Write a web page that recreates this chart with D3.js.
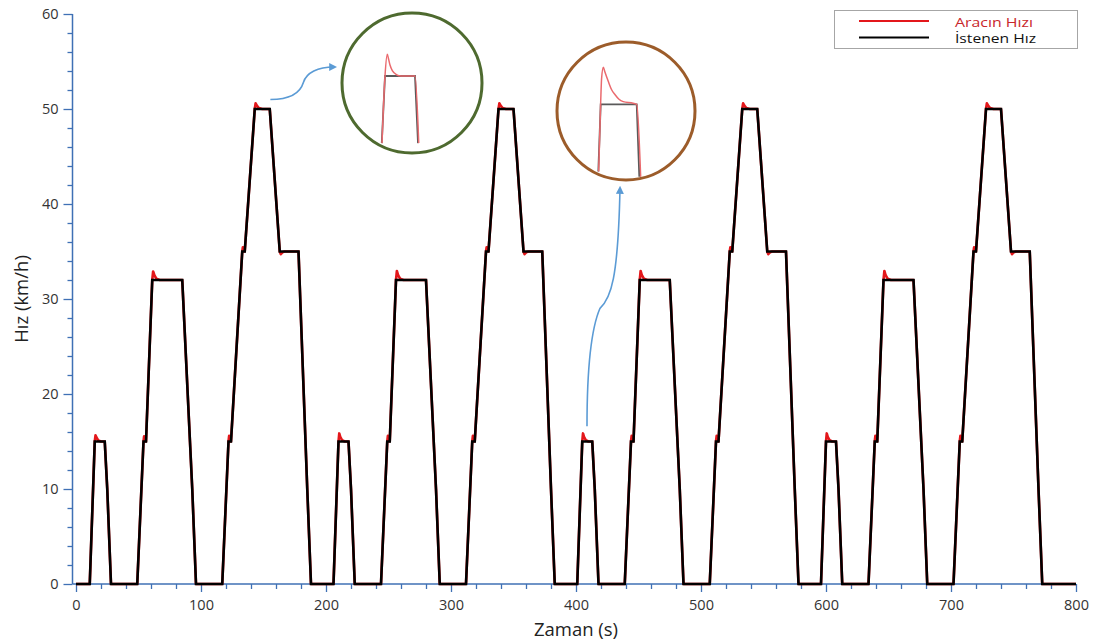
<!DOCTYPE html>
<html>
<head>
<meta charset="utf-8">
<script src="https://cdn.jsdelivr.net/npm/d3@7"></script>
<style>
  html, body { margin: 0; padding: 0; background: #fff; }
  svg { display: block; font-family: "Open Sans", "Noto Sans", sans-serif; }
</style>
</head>
<body>
<svg id="chart" width="1103" height="641"></svg>
<script>
// ECE-15 urban driving cycle, four repetitions (time in s, speed in km/h)
// Requested speed (İstenen Hız) breakpoints
const targetTime = [
  0, 11, 15, 23, 25, 28, 49, 54, 56, 61, 85, 93, 96, 117, 122, 124, 133, 135, 143, 155, 163, 176, 178, 185, 188,
  206, 210, 218, 220, 223, 244, 249, 251, 256, 280, 288, 291, 312, 317, 319, 328, 330, 338, 350, 358, 371, 373, 380, 383,
  401, 405, 413, 415, 418, 439, 444, 446, 451, 475, 483, 486, 507, 512, 514, 523, 525, 533, 545, 553, 566, 568, 575, 578,
  596, 600, 608, 610, 613, 634, 639, 641, 646, 670, 678, 681, 702, 707, 709, 718, 720, 728, 740, 748, 761, 763, 770, 773,
  800
];
const targetSpeed = [
  0, 0, 15, 15, 10, 0, 0, 15, 15, 32, 32, 10, 0, 0, 15, 15, 35, 35, 50, 50, 35, 35, 35, 10, 0,
  0, 15, 15, 10, 0, 0, 15, 15, 32, 32, 10, 0, 0, 15, 15, 35, 35, 50, 50, 35, 35, 35, 10, 0,
  0, 15, 15, 10, 0, 0, 15, 15, 32, 32, 10, 0, 0, 15, 15, 35, 35, 50, 50, 35, 35, 35, 10, 0,
  0, 15, 15, 10, 0, 0, 15, 15, 32, 32, 10, 0, 0, 15, 15, 35, 35, 50, 50, 35, 35, 35, 10, 0,
  0
];

// Measured vehicle speed (Aracın Hızı): follows the request with small overshoots
const vehicleSpeed = [
  [0,0],[11,0],[15,15],[15.6,15.65],[16.4,15.42],[17.8,15.12],[20,15],[23,15],[25,10],[28,0],[49,0],
  [54,15],[54.5,15.55],[55.3,15.12],[56,15],[61,32],[61.7,32.9],[62.7,32.5],[64.3,32.15],[67,32],[85,32],[93,10],[96,0],[117,0],
  [122,15],[122.5,15.6],[123.3,15.15],[124,15],[133,35],[133.5,35.45],[134.3,35.12],[135,35],
  [143,50],[143.7,50.6],[144.7,50.35],[146.3,50.1],[149,50],[155,50],[163,35],[163.8,34.72],[165.2,34.92],[167,35],[176,35],[178,35],[185,10],[188,0],

  [206,0],[210,15],[210.6,15.85],[211.4,15.5],[212.8,15.15],[215,15],[218,15],[220,10],[223,0],[244,0],
  [249,15],[249.5,15.6],[250.3,15.15],[251,15],[256,32],[256.7,32.95],[257.7,32.5],[259.3,32.15],[262,32],[280,32],[288,10],[291,0],[312,0],
  [317,15],[317.5,15.6],[318.3,15.15],[319,15],[328,35],[328.5,35.45],[329.3,35.12],[330,35],
  [338,50],[338.7,50.6],[339.7,50.35],[341.3,50.1],[344,50],[350,50],[358,35],[358.8,34.72],[360.2,34.92],[362,35],[371,35],[373,35],[380,10],[383,0],

  [401,0],[405,15],[405.6,15.85],[406.4,15.5],[407.8,15.15],[410,15],[413,15],[415,10],[418,0],[439,0],
  [444,15],[444.5,15.6],[445.3,15.15],[446,15],[451,32],[451.7,32.95],[452.7,32.5],[454.3,32.15],[457,32],[475,32],[483,10],[486,0],[507,0],
  [512,15],[512.5,15.6],[513.3,15.15],[514,15],[523,35],[523.5,35.45],[524.3,35.12],[525,35],
  [533,50],[533.7,50.6],[534.7,50.35],[536.3,50.1],[539,50],[545,50],[553,35],[553.8,34.72],[555.2,34.92],[557,35],[566,35],[568,35],[575,10],[578,0],

  [596,0],[600,15],[600.6,15.85],[601.4,15.5],[602.8,15.15],[605,15],[608,15],[610,10],[613,0],[634,0],
  [639,15],[639.5,15.6],[640.3,15.15],[641,15],[646,32],[646.7,32.95],[647.7,32.5],[649.3,32.15],[652,32],[670,32],[678,10],[681,0],[702,0],
  [707,15],[707.5,15.6],[708.3,15.15],[709,15],[718,35],[718.5,35.45],[719.3,35.12],[720,35],
  [728,50],[728.7,50.6],[729.7,50.35],[731.3,50.1],[734,50],[740,50],[748,35],[748.8,34.72],[750.2,34.92],[752,35],[761,35],[763,35],[770,10],[773,0],
  [800,0]
];

// Magnified views of two plateaus: 50 km/h (first cycle) and 15 km/h (third cycle)
const zoomTarget50  = [[141.7,48.17],[143,50],[155,50],[156.2,48.17]];
const zoomVehicle50 = [[141.8,48.17],[143,50],[143.9,50.59],[144.4,50.47],[145,50.3],[146,50.14],[147.5,50.04],[149.5,50],[155,50],[156.5,48.17]];
const zoomTarget15  = [[404.47,13.73],[405,15],[413,15],[413.58,13.63]];
const zoomVehicle15 = [[404.55,13.73],[405,15.05],[405.2,15.49],[405.58,15.7],[405.9,15.62],[406.7,15.43],[407.4,15.28],[408.2,15.18],[409,15.1],[410,15.05],[412.2,15.02],[413,15],[413.9,13.59]];

const xTicks = [0, 100, 200, 300, 400, 500, 600, 700, 800];
const xMinorTicks = d3.range(0, 801, 20).filter(v => v % 100 !== 0);
const yTicks = [0, 10, 20, 30, 40, 50, 60];
const yMinorTicks = d3.range(0, 61, 2).filter(v => v % 10 !== 0);

const seriesNames = ["Aracın Hızı", "İstenen Hız"];
const xTitle = "Zaman (s)";
const yTitle = "Hız (km/h)";

// ---- layout ----
const AXIS_BLUE = "#3f70b5";
const x = d3.scaleLinear().domain([0, 800]).range([76, 1076]);
const y = d3.scaleLinear().domain([0, 60]).range([584, 14]);
const yAxisX = 72.5;

const svg = d3.select("#chart");

// axes
const gx = svg.append("g").attr("transform", `translate(0,${y(0)})`);
gx.call(d3.axisBottom(x).tickValues(xMinorTicks).tickSize(5).tickSizeOuter(0).tickFormat(""));
gx.call(g => g.select(".domain").remove());
const gx2 = svg.append("g").attr("transform", `translate(0,${y(0)})`);
gx2.call(d3.axisBottom(x).tickValues(xTicks).tickSize(8).tickSizeOuter(0).tickPadding(8).tickFormat(d3.format("d")));
gx2.select(".domain").remove();

const gy = svg.append("g").attr("transform", `translate(${yAxisX},0)`);
gy.call(d3.axisLeft(y).tickValues(yMinorTicks).tickSize(5).tickSizeOuter(0).tickFormat(""));
gy.select(".domain").remove();
const gy2 = svg.append("g").attr("transform", `translate(${yAxisX},0)`);
gy2.call(d3.axisLeft(y).tickValues(yTicks).tickSize(9).tickSizeOuter(0).tickPadding(5).tickFormat(d3.format("d")));
gy2.select(".domain").remove();

svg.selectAll(".tick line").attr("stroke", AXIS_BLUE).attr("stroke-width", 1.3);
svg.selectAll(".tick text").attr("fill", "#333").attr("font-size", 14.5)
   .attr("font-family", "'Open Sans', 'Noto Sans', sans-serif");

// axis lines
svg.append("line").attr("x1", yAxisX).attr("x2", yAxisX).attr("y1", y(60)).attr("y2", y(0))
   .attr("stroke", AXIS_BLUE).attr("stroke-width", 1.5);
svg.append("line").attr("x1", yAxisX).attr("x2", x(800)).attr("y1", y(0)).attr("y2", y(0))
   .attr("stroke", AXIS_BLUE).attr("stroke-width", 1.5);

// axis titles
svg.append("text").attr("x", x(400)).attr("y", 635.5).attr("text-anchor", "middle")
   .attr("font-size", 18.5).attr("fill", "#222").text(xTitle);
svg.append("text").attr("transform", `translate(28,${y(30)}) rotate(-90)`).attr("text-anchor", "middle")
   .attr("font-size", 18.5).attr("fill", "#222").text(yTitle);

// series
const lineFn = d3.line().x(d => x(d[0])).y(d => y(d[1]));
const target = targetTime.map((t, i) => [t, targetSpeed[i]]);

svg.append("path").datum(vehicleSpeed).attr("d", lineFn)
   .attr("fill", "none").attr("stroke", "#e3171b").attr("stroke-width", 2.6).attr("stroke-linejoin", "round");
svg.append("path").datum(target).attr("d", lineFn)
   .attr("fill", "none").attr("stroke", "#000").attr("stroke-width", 2.6).attr("stroke-linejoin", "miter");

// legend
const legend = svg.append("g");
legend.append("rect").attr("x", 834.5).attr("y", 10.5).attr("width", 243).attr("height", 38)
  .attr("fill", "#fff").attr("stroke", "#a6a6a6").attr("stroke-width", 1);
const legendColors = ["#e3171b", "#000"];
const legendTextColors = ["#c8262b", "#111"];
const legendTextWidth = [78, 81];
seriesNames.forEach((name, i) => {
  const ly = 21 + i * 16.5;
  legend.append("line").attr("x1", 859).attr("x2", 929).attr("y1", ly).attr("y2", ly)
    .attr("stroke", legendColors[i]).attr("stroke-width", 2.2);
  legend.append("text").attr("x", 955).attr("y", ly + 5.5).attr("font-size", 12)
    .attr("textLength", legendTextWidth[i]).attr("lengthAdjust", "spacingAndGlyphs")
    .attr("fill", legendTextColors[i]).text(name);
});

// magnified insets
const defs = svg.append("defs");
const marker = defs.append("marker").attr("id", "arrowhead").attr("viewBox", "0 0 10 10")
  .attr("refX", 6).attr("refY", 5).attr("markerWidth", 5).attr("markerHeight", 5)
  .attr("orient", "auto-start-reverse");
marker.append("path").attr("d", "M0,0 L10,5 L0,10 Z").attr("fill", "#5b9bd5");

const insets = [
  { id: "zoom50", cx: 412, cy: 83, r: 70, ring: "#4e6a2f",
    xs: d3.scaleLinear().domain([143, 155]).range([385, 415]),
    ys: d3.scaleLinear().domain([50, 50.6]).range([76, 54]),
    target: zoomTarget50, vehicle: zoomVehicle50 },
  { id: "zoom15", cx: 626, cy: 111, r: 69, ring: "#9c5c2a",
    xs: d3.scaleLinear().domain([405, 413]).range([600.7, 636.7]),
    ys: d3.scaleLinear().domain([15, 15.7]).range([104.3, 67.3]),
    target: zoomTarget15, vehicle: zoomVehicle15 }
];

insets.forEach(ins => {
  defs.append("clipPath").attr("id", "clip-" + ins.id)
    .append("circle").attr("cx", ins.cx).attr("cy", ins.cy).attr("r", ins.r - 1.5);
  const g = svg.append("g");
  g.append("circle").attr("cx", ins.cx).attr("cy", ins.cy).attr("r", ins.r).attr("fill", "#fff");
  const inner = g.append("g").attr("clip-path", `url(#clip-${ins.id})`);
  const ln = d3.line().x(d => ins.xs(d[0])).y(d => ins.ys(d[1]));
  inner.append("path").datum(ins.target).attr("d", ln)
    .attr("fill", "none").attr("stroke", "#5a5a5a").attr("stroke-width", 1.8);
  inner.append("path").datum(ins.vehicle).attr("d", ln.curve(d3.curveMonotoneX))
    .attr("fill", "none").attr("stroke", "#ea6a6e").attr("stroke-width", 1.5);
  g.append("circle").attr("cx", ins.cx).attr("cy", ins.cy).attr("r", ins.r)
    .attr("fill", "none").attr("stroke", ins.ring).attr("stroke-width", 3);
});

// pointer arrows from the plateaus to their insets
const a1s = [x(155.5), y(51)];
const a1e = [334, 67];
svg.append("path")
  .attr("d", `M${a1s[0]},${a1s[1]} C${a1s[0]+20},${a1s[1]} ${a1s[0]+30},${a1s[1]-7} ${a1s[0]+33},${a1s[1]-17} ` +
             `C${a1s[0]+36},${a1s[1]-27} ${a1e[0]-16},${a1e[1]} ${a1e[0]},${a1e[1]}`)
  .attr("fill", "none").attr("stroke", "#5b9bd5").attr("stroke-width", 1.6).attr("marker-end", "url(#arrowhead)");

const a2s = [x(408.8), y(16.6)];
const a2e = [620, 189];
svg.append("path")
  .attr("d", `M${a2s[0]},${a2s[1]} C${a2s[0]},${a2s[1]-50} ${a2s[0]+3},${a2s[1]-95} ${a2s[0]+13},${a2s[1]-118} ` +
             `C${a2s[0]+24},${a2s[1]-128} ${a2e[0]-2},${a2e[1]+90} ${a2e[0]},${a2e[1]}`)
  .attr("fill", "none").attr("stroke", "#5b9bd5").attr("stroke-width", 1.6).attr("marker-end", "url(#arrowhead)");
</script>
</body>
</html>
